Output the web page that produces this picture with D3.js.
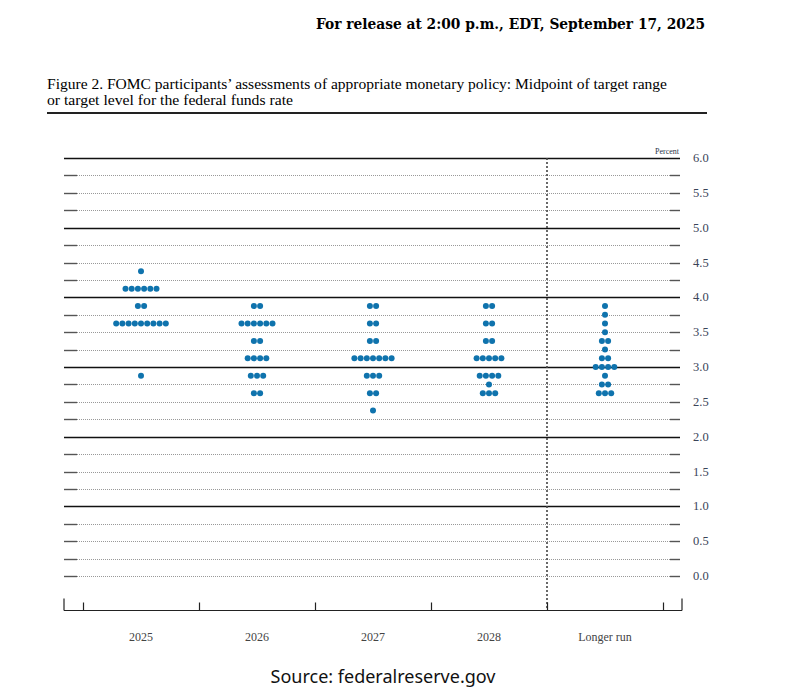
<!DOCTYPE html>
<html>
<head>
<meta charset="utf-8">
<style>
body { margin: 0; background: #fff; }
text { font-family: "Liberation Serif", "DejaVu Serif", serif; }
.source { font-family: "Noto Sans", "Open Sans", sans-serif; }
</style>
</head>
<body>
<div id="chart"></div>
<script src="https://cdn.jsdelivr.net/npm/d3@7"></script>
<script>
// Columns of the dot plot
var categories = ["2025", "2026", "2027", "2028", "Longer run"];

// Midpoint levels that hold at least one dot (percent)
var rates = [4.375, 4.125, 3.875, 3.75, 3.625, 3.5, 3.375, 3.25, 3.125, 3.0, 2.875, 2.75, 2.625, 2.375];

// Number of participants at each level above, one array per column
var dots2025 = [1, 6, 2, 0, 9, 0, 0, 0, 0, 0, 1, 0, 0, 0];
var dots2026 = [0, 0, 2, 0, 6, 0, 2, 0, 4, 0, 3, 0, 2, 0];
var dots2027 = [0, 0, 2, 0, 2, 0, 2, 0, 7, 0, 3, 0, 2, 1];
var dots2028 = [0, 0, 2, 0, 2, 0, 2, 0, 5, 0, 4, 1, 3, 0];
var dotsLongerRun = [0, 0, 1, 1, 1, 1, 2, 1, 2, 4, 1, 2, 3, 0];

var yTickLabels = ["0.0", "0.5", "1.0", "1.5", "2.0", "2.5", "3.0", "3.5", "4.0", "4.5", "5.0", "5.5", "6.0"];

var W = 793, H = 695;
var svg = d3.select("#chart").append("svg").attr("width", W).attr("height", H);

var x = d3.scaleBand().domain(categories).range([83, 663]);
var y = d3.scaleLinear().domain([0, 6]).range([576, 158]);
var left = 64, right = 680;

// header
svg.append("text")
    .attr("x", 705).attr("y", 29)
    .attr("text-anchor", "end")
    .style("font-family", "'DejaVu Serif', serif")
    .style("font-size", "14px")
    .style("font-weight", "bold")
    .attr("textLength", 389).attr("lengthAdjust", "spacingAndGlyphs")
    .text("For release at 2:00 p.m., EDT, September 17, 2025");

svg.append("text")
    .attr("x", 47).attr("y", 89)
    .style("font-size", "14.5px")
    .attr("textLength", 620).attr("lengthAdjust", "spacingAndGlyphs")
    .text("Figure 2. FOMC participants\u2019 assessments of appropriate monetary policy: Midpoint of target range");
svg.append("text")
    .attr("x", 47).attr("y", 105)
    .style("font-size", "14.5px")
    .attr("textLength", 246).attr("lengthAdjust", "spacingAndGlyphs")
    .text("or target level for the federal funds rate");
svg.append("line")
    .attr("x1", 47).attr("x2", 707).attr("y1", 113).attr("y2", 113)
    .attr("stroke", "#222").attr("stroke-width", 2);

// horizontal grid, every quarter point
var gridVals = d3.range(0, 24.5, 1).map(function (d) { return d / 4; });
gridVals.forEach(function (v) {
    var yy = Math.round(y(v)) + 0.5;
    if (v > 0 && v % 1 === 0) {
        svg.append("line")
            .attr("x1", left).attr("x2", right).attr("y1", yy).attr("y2", yy)
            .attr("stroke", "#111").attr("stroke-width", 1.4);
    } else {
        svg.append("line")
            .attr("x1", left + 13).attr("x2", right - 10).attr("y1", yy).attr("y2", yy)
            .attr("stroke", "#999").attr("stroke-width", 1)
            .attr("stroke-dasharray", "1,1");
        svg.append("line")
            .attr("x1", left).attr("x2", left + 13).attr("y1", yy).attr("y2", yy)
            .attr("stroke", "#555").attr("stroke-width", 1.4);
        svg.append("line")
            .attr("x1", right - 10).attr("x2", right).attr("y1", yy).attr("y2", yy)
            .attr("stroke", "#555").attr("stroke-width", 1.4);
    }
});

// right-hand tick labels
svg.selectAll(".ylab")
    .data(yTickLabels)
    .enter().append("text")
    .attr("class", "ylab")
    .attr("x", 693)
    .attr("y", function (d) { return y(+d) + 4; })
    .style("font-size", "12.5px")
    .style("fill", "#3a4458")
    .text(function (d) { return d; });

svg.append("text")
    .attr("x", 679).attr("y", 154)
    .attr("text-anchor", "end")
    .style("font-size", "8px")
    .style("fill", "#2a3448")
    .text("Percent");

// dotted divider before the longer run column
var divX = x("Longer run");
svg.append("line")
    .attr("x1", divX).attr("x2", divX).attr("y1", y(6)).attr("y2", 610)
    .attr("stroke", "#444").attr("stroke-width", 1.6)
    .attr("stroke-dasharray", "2,2");

// bottom axis
var axisY = 610.5;
svg.append("line")
    .attr("x1", 64).attr("x2", 682).attr("y1", axisY).attr("y2", axisY)
    .attr("stroke", "#222").attr("stroke-width", 1.2);
[64, 682].forEach(function (ex) {
    svg.append("line")
        .attr("x1", ex).attr("x2", ex).attr("y1", axisY - 12).attr("y2", axisY)
        .attr("stroke", "#222").attr("stroke-width", 1.2);
});
var edges = categories.map(function (c) { return x(c); }).concat([x.range()[1]]);
svg.selectAll(".xtick")
    .data(edges)
    .enter().append("line")
    .attr("class", "xtick")
    .attr("x1", function (d) { return Math.round(d) + 0.5; })
    .attr("x2", function (d) { return Math.round(d) + 0.5; })
    .attr("y1", axisY - 8).attr("y2", axisY)
    .attr("stroke", "#222").attr("stroke-width", 1.2);

svg.selectAll(".xlab")
    .data(categories)
    .enter().append("text")
    .attr("class", "xlab")
    .attr("x", function (d) { return x(d) + x.bandwidth() / 2; })
    .attr("y", 641)
    .attr("text-anchor", "middle")
    .style("font-size", "12px")
    .style("fill", "#444")
    .text(function (d) { return d; });

// dots
var columns = [dots2025, dots2026, dots2027, dots2028, dotsLongerRun];
var pts = [];
columns.forEach(function (counts, ci) {
    counts.forEach(function (n, ri) {
        for (var k = 0; k < n; k++) {
            pts.push({ cat: categories[ci], rate: rates[ri], off: k - (n - 1) / 2 });
        }
    });
});
var step = 6.2;
svg.selectAll(".dot")
    .data(pts)
    .enter().append("circle")
    .attr("class", "dot")
    .attr("cx", function (d) { return x(d.cat) + x.bandwidth() / 2 + d.off * step; })
    .attr("cy", function (d) { return y(d.rate); })
    .attr("r", 3)
    .attr("fill", "#0f73ad");

// source line
svg.append("text")
    .attr("class", "source")
    .attr("x", 383).attr("y", 683)
    .attr("text-anchor", "middle")
    .style("font-size", "18px")
    .style("fill", "#111")
    .text("Source: federalreserve.gov");
</script>
</body>
</html>
